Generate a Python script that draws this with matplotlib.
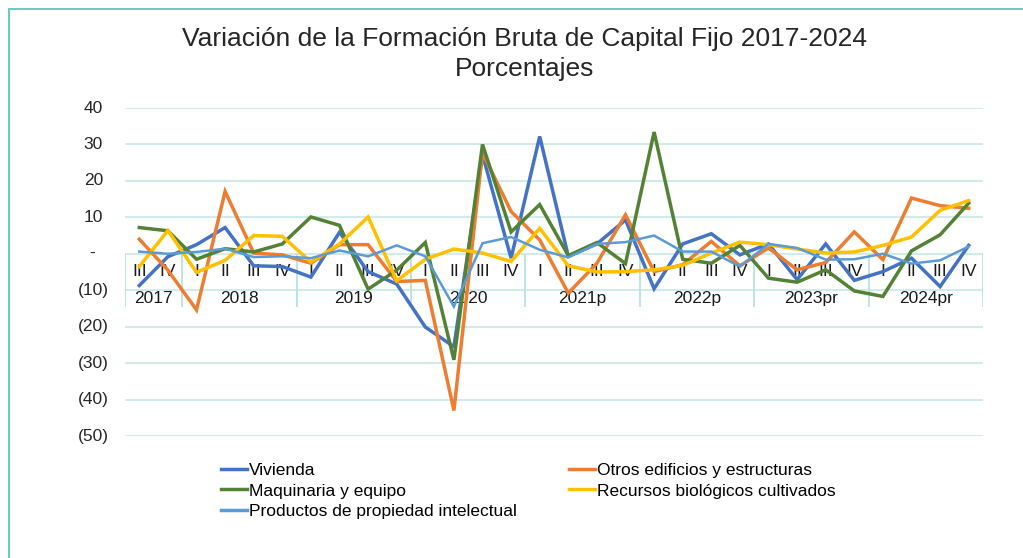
import matplotlib
matplotlib.use('Agg')
import matplotlib.pyplot as plt
from matplotlib.lines import Line2D
from matplotlib.patches import Rectangle

plt.rcParams['font.family'] = ['Liberation Sans', 'DejaVu Sans']

# quarterly variation (%) 2017 III - 2024 IV
quarters = ['III', 'IV',
            'I', 'II', 'III', 'IV', 'I', 'II', 'III', 'IV',
            'I', 'II', 'III', 'IV', 'I', 'II', 'III', 'IV',
            'I', 'II', 'III', 'IV', 'I', 'II', 'III', 'IV',
            'I', 'II', 'III', 'IV']
years = ['2017', '2018', '2019', '2020', '2021p', '2022p', '2023pr', '2024pr']
year_counts = [2, 4, 4, 4, 4, 4, 4, 4]

vivienda = [-8.7, -0.8, 2.5, 7.2, -3.3, -3.5, -6.4, 5.9, -4.9, -8.3,
            -20.1, -25.5, 27.2, -1.2, 32.2, -0.7, 2.7, 9.3, -9.6, 2.7,
            5.5, -0.3, 2.7, -7.1, 2.7, -7.3, -4.9, -1.2, -9.0, 2.3]
otros = [4.0, -4.5, -15.4, 17.1, 0.2, -0.3, -2.6, 2.5, 2.5, -7.6,
         -7.3, -43.0, 27.7, 11.6, 3.8, -10.8, -2.6, 10.7, -4.9, -3.0,
         3.4, -3.3, 1.6, -4.4, -2.4, 6.0, -1.6, 15.3, 13.2, 12.5]
maquinaria = [7.2, 6.3, -1.5, 1.4, 0.5, 2.7, 10.1, 7.8, -9.7, -4.5,
              3.1, -29.1, 30.0, 6.0, 13.5, -0.5, 3.1, -2.7, 33.4, -1.5,
              -2.6, 2.3, -6.7, -7.8, -4.4, -10.2, -11.7, 0.8, 5.2, 13.9]
recursos = [-3.5, 6.4, -5.1, -1.8, 5.0, 4.8, -2.3, 2.7, 10.1, -7.4,
            -1.5, 1.3, 0.2, -2.1, 7.0, -3.3, -5.0, -4.9, -4.4, -3.2,
            0.2, 3.2, 2.5, 1.3, 0.2, 0.5, 2.3, 4.6, 11.9, 14.6]
productos = [0.6, 0.0, 0.5, 1.4, -0.9, -0.7, -1.2, 0.9, -0.7, 2.3,
             -0.7, -14.5, 2.9, 4.6, 1.1, -1.0, 2.7, 3.2, 5.0, 0.6,
             0.6, -3.5, 2.7, 1.6, -1.6, -1.5, 0.0, -2.7, -1.8, 2.0]

series_names = ['Vivienda', 'Otros edificios y estructuras', 'Maquinaria y equipo',
                'Recursos biológicos cultivados', 'Productos de propiedad intelectual']
series_data = [vivienda, otros, maquinaria, recursos, productos]
colors = ['#4472C4', '#ED7D31', '#548235', '#FFC000', '#5B9BD5']
widths = [2.5, 2.5, 2.5, 2.5, 1.8]

yticks = [40, 30, 20, 10, 0, -10, -20, -30, -40, -50]
ylabels = ['40', '30', '20', '10', '-', '(10)', '(20)', '(30)', '(40)', '(50)']

GRID = '#c6e7e7'
BOX = '#b3dfdf'
FS = 12.5

fig = plt.figure(figsize=(10.23, 5.58), dpi=100)
ax = fig.add_axes([125 / 1023, 1 - 436 / 558, (983 - 125) / 1023, (436 - 108) / 558])

x = list(range(len(quarters)))
ax.set_xlim(-0.5, len(quarters) - 0.5)
ax.set_ylim(-50, 40)

for v in yticks:
    ax.axhline(v, color=GRID, linewidth=1.2, zorder=0)

for spine in ax.spines.values():
    spine.set_visible(False)
ax.set_xticks([])
ax.set_yticks([])

# y labels in accounting style
for v, lab in zip(yticks, ylabels):
    if lab == '-':
        ax.annotate(lab, xy=(0, v), xycoords=('axes fraction', 'data'),
                    xytext=(-23.8, 0), textcoords='offset points',
                    ha='center', va='center', fontsize=FS, color='#262626')
    elif lab.startswith('('):
        ax.annotate(lab, xy=(0, v), xycoords=('axes fraction', 'data'),
                    xytext=(-11.5, 0), textcoords='offset points',
                    ha='right', va='center', fontsize=FS, color='#262626')
    else:
        ax.annotate(lab, xy=(0, v), xycoords=('axes fraction', 'data'),
                    xytext=(-15.8, 0), textcoords='offset points',
                    ha='right', va='center', fontsize=FS, color='#262626')

# multi-level category axis
q_y = -4.9
yr_y = -12.35
box_bottom = -14.6
for i, q in enumerate(quarters):
    ax.text(i, q_y, q, ha='center', va='center', fontsize=FS, color='#1a1a1a', zorder=1)

start = 0
bounds = [-0.5]
for yr, n in zip(years, year_counts):
    ax.text(start + (n - 1) / 2, yr_y, yr, ha='center', va='center',
            fontsize=FS, color='#1a1a1a', zorder=1)
    start += n
    bounds.append(start - 0.5)
ax.vlines(bounds, box_bottom, 0, colors=BOX, linewidth=1.2, zorder=0)

for name, data, c, w in zip(series_names, series_data, colors, widths):
    ax.plot(x, data, color=c, linewidth=w, label=name, zorder=3,
            solid_joinstyle='miter')

fig.text(525 / 1023, 1 - 39 / 558, 'Variación de la Formación Bruta de Capital Fijo 2017-2024',
         ha='center', va='center', fontsize=19, color='#262626')
fig.text(525 / 1023, 1 - 69 / 558, 'Porcentajes',
         ha='center', va='center', fontsize=19, color='#262626')

order = [0, 2, 4, 1, 3]
leg_handles = [Line2D([0], [0], color=colors[k], linewidth=2.5) for k in order]
fig.legend(leg_handles, [series_names[k] for k in order], ncol=2,
           loc='upper left', bbox_to_anchor=(221 / 1023, 1 - 463 / 558),
           frameon=False, fontsize=FS, handlelength=1.5, handletextpad=0.1,
           columnspacing=3.0, labelspacing=0.3, borderpad=0, borderaxespad=0)

# outer frame of the chart area
fig.patches.append(Rectangle((9 / 1023, -0.1), 1.2, 1.1 - 9 / 558,
                             transform=fig.transFigure, fill=False,
                             edgecolor='#5cc6ba', linewidth=1.3))

fig.savefig('out.png', dpi=100)
